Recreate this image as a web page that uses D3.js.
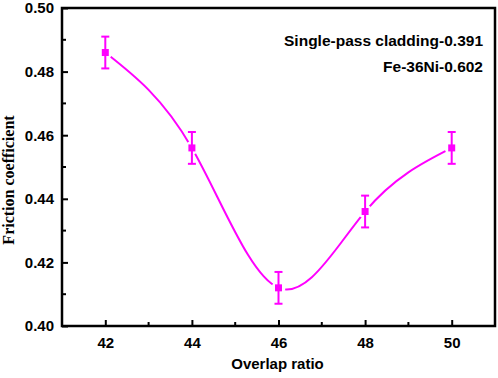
<!DOCTYPE html>
<html>
<head>
<meta charset="utf-8">
<script src="https://cdn.jsdelivr.net/npm/d3@7"></script>
<style>
  body { margin: 0; background: #fff; }
  svg text { font-family: Arial, "Liberation Sans", sans-serif; font-weight: bold; }
</style>
</head>
<body>
<div id="chart"></div>
<script>
// data
const overlap = [42, 44, 46, 48, 50];
const friction = [0.486, 0.456, 0.412, 0.436, 0.456];
const errors = [0.005, 0.005, 0.005, 0.005, 0.005];
const xTicks = [42, 44, 46, 48, 50];
const yTicks = [0.40, 0.42, 0.44, 0.46, 0.48, 0.50];
const notes = ['Single-pass cladding-0.391', 'Fe-36Ni-0.602'];

const W = 498, H = 378;
const m = { left: 62, right: 3, top: 8, bottom: 52 };
const color = '#ff00ff';

const svg = d3.select('#chart').append('svg')
    .attr('width', W).attr('height', H);

const x = d3.scaleLinear().domain([41, 51]).range([m.left, W - m.right]);
const y = d3.scaleLinear().domain([0.40, 0.50]).range([H - m.bottom, m.top]);

const pts = overlap.map((v, i) => ({ x: v, y: friction[i], e: errors[i] }));

// gaps in the curve around the markers
const mask = svg.append('defs').append('mask').attr('id', 'gap');
mask.append('rect').attr('width', W).attr('height', H).attr('fill', '#fff');
mask.selectAll('circle').data(pts).join('circle')
    .attr('cx', d => x(d.x)).attr('cy', d => y(d.y)).attr('r', 7).attr('fill', '#000');

const line = d3.line().x(d => x(d.x)).y(d => y(d.y)).curve(d3.curveNatural);
svg.append('path').datum(pts)
    .attr('d', line)
    .attr('fill', 'none').attr('stroke', color).attr('stroke-width', 2)
    .attr('mask', 'url(#gap)');

// error bars
const eb = svg.append('g').attr('stroke', color).attr('stroke-width', 2);
eb.selectAll('.v').data(pts).join('line').attr('class', 'v')
    .attr('x1', d => x(d.x)).attr('x2', d => x(d.x))
    .attr('y1', d => y(d.y - d.e)).attr('y2', d => y(d.y + d.e));
eb.selectAll('.t').data(pts).join('line').attr('class', 't')
    .attr('x1', d => x(d.x) - 4).attr('x2', d => x(d.x) + 4)
    .attr('y1', d => y(d.y + d.e)).attr('y2', d => y(d.y + d.e));
eb.selectAll('.b').data(pts).join('line').attr('class', 'b')
    .attr('x1', d => x(d.x) - 4).attr('x2', d => x(d.x) + 4)
    .attr('y1', d => y(d.y - d.e)).attr('y2', d => y(d.y - d.e));

svg.append('g').selectAll('rect').data(pts).join('rect')
    .attr('x', d => x(d.x) - 3.5).attr('y', d => y(d.y) - 3.5)
    .attr('width', 7).attr('height', 7).attr('fill', color);

// axes: ticks point inward
const xMinor = d3.range(41, 52, 1);
const yMinor = d3.range(0.40, 0.5001, 0.01);

const xAxis = svg.append('g').attr('transform', `translate(0,${y.range()[0]})`)
    .call(d3.axisBottom(x).tickValues(xTicks).tickSize(-6).tickPadding(11).tickFormat(d3.format('d')));
const yAxis = svg.append('g').attr('transform', `translate(${m.left},0)`)
    .call(d3.axisLeft(y).tickValues(yTicks).tickSize(-6).tickPadding(8).tickFormat(d3.format('.2f')));

[xAxis, yAxis].forEach(g => {
  g.select('.domain').remove();
  g.selectAll('.tick line').attr('stroke', '#000').attr('stroke-width', 2);
  g.selectAll('.tick text').attr('fill', '#000').style('font-size', '15px');
});

svg.append('g').attr('stroke', '#000').attr('stroke-width', 2)
  .selectAll('line').data(xMinor.filter(v => !xTicks.includes(v))).join('line')
    .attr('x1', d => x(d)).attr('x2', d => x(d))
    .attr('y1', y.range()[0]).attr('y2', y.range()[0] - 4);
svg.append('g').attr('stroke', '#000').attr('stroke-width', 2)
  .selectAll('line').data(yMinor.filter((v, i) => i % 2 === 1)).join('line')
    .attr('x1', m.left).attr('x2', m.left + 4)
    .attr('y1', d => y(d)).attr('y2', d => y(d));

// frame
svg.append('rect')
    .attr('x', m.left).attr('y', m.top)
    .attr('width', W - m.right - m.left).attr('height', H - m.bottom - m.top)
    .attr('fill', 'none').attr('stroke', '#000').attr('stroke-width', 2.5);

// labels
svg.append('text')
    .attr('x', (m.left + W - m.right) / 2 - 1).attr('y', 369)
    .attr('text-anchor', 'middle').style('font-size', '15px')
    .text('Overlap ratio');

svg.append('text')
    .attr('transform', 'translate(14,180) rotate(-90)')
    .attr('text-anchor', 'middle')
    .style('font-family', '"Liberation Serif", "Times New Roman", serif')
    .style('font-size', '16px')
    .text('Friction coefficient');

svg.append('g').selectAll('text').data(notes).join('text')
    .attr('x', 483).attr('y', (d, i) => 46 + i * 26)
    .attr('text-anchor', 'end').style('font-size', '15.5px')
    .text(d => d);
</script>
</body>
</html>
